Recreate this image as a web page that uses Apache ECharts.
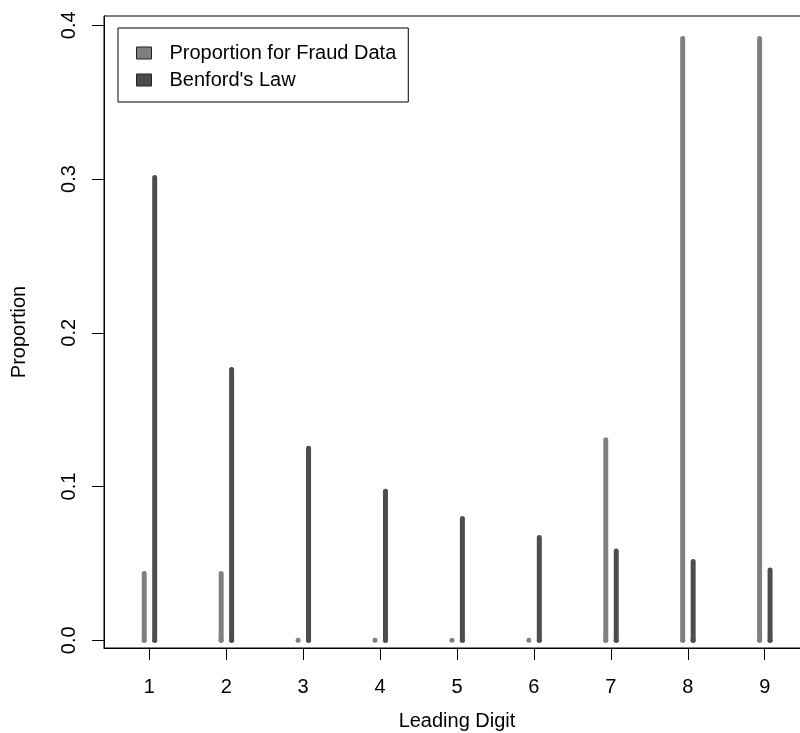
<!DOCTYPE html>
<html>
<head>
<meta charset="utf-8">
<style>html,body{margin:0;padding:0;background:#fff;overflow:hidden;width:800px;height:733px;}#main{width:812px;height:733px;}</style>
<script src="https://cdn.jsdelivr.net/npm/echarts@6/dist/echarts.min.js"></script>
</head>
<body>
<div id="main"></div>
<script>
var digits = [1, 2, 3, 4, 5, 6, 7, 8, 9];
var fraudProp = [0.0435, 0.0435, 0, 0, 0, 0, 0.1304, 0.3913, 0.3913];
var benfordProp = [0.3010, 0.1761, 0.1249, 0.0969, 0.0792, 0.0669, 0.0580, 0.0512, 0.0458];
var yTicks = [0, 0.1, 0.2, 0.3, 0.4];
var seriesNames = ['Proportion for Fraud Data', "Benford's Law"];

var FONT = '"Liberation Sans", Arial, Helvetica, sans-serif';
var fraudColor = '#808080';
var benfordColor = '#4d4d4d';

function makeRender(color, offset) {
  return function (params, api) {
    var x = api.value(0) + offset;
    var y = api.value(1);
    var p0 = api.coord([x, 0]);
    var p1 = api.coord([x, y]);
    return {
      type: 'group',
      children: [
        {
          type: 'line',
          shape: { x1: p0[0], y1: p0[1], x2: p1[0], y2: p1[1] },
          style: { stroke: color, lineWidth: 5, lineCap: 'round' }
        },
        {
          type: 'circle',
          shape: { cx: p0[0], cy: p0[1], r: 2.5 },
          style: { fill: color }
        }
      ]
    };
  };
}

var chart = echarts.init(document.getElementById('main'), null, { renderer: 'canvas' });
chart.setOption({
  animation: false,
  backgroundColor: '#fff',
  textStyle: { fontFamily: FONT },
  grid: {
    left: 104, top: 16, bottom: 85, right: 2,
    outerBoundsMode: 'none',
    containLabel: false,
    show: true, borderColor: '#000', borderWidth: 1, backgroundColor: 'transparent'
  },
  legend: {
    orient: 'vertical',
    left: 118, top: 28,
    padding: [15, 12, 12, 18],
    itemGap: 7,
    itemWidth: 15, itemHeight: 12,
    icon: 'rect',
    borderColor: '#000', borderWidth: 1,
    textStyle: { fontFamily: FONT, fontSize: 20, color: '#000', padding: [0, 0, 0, 13] },
    data: [
      { name: seriesNames[0], itemStyle: { color: fraudColor, borderColor: '#222', borderWidth: 1 } },
      { name: seriesNames[1], itemStyle: { color: benfordColor, borderColor: '#222', borderWidth: 1 } }
    ]
  },
  xAxis: {
    type: 'value',
    min: 0.411, max: 9.589,
    name: 'Leading Digit',
    nameLocation: 'middle',
    nameGap: 63,
    nameTextStyle: { fontFamily: FONT, fontSize: 20, color: '#000' },
    splitLine: { show: false },
    axisLine: { show: true, onZero: false, lineStyle: { color: '#000', width: 1 } },
    axisTick: { show: true, length: 12, customValues: digits, lineStyle: { color: '#000', width: 1 } },
    axisLabel: {
      customValues: digits, margin: 29,
      fontFamily: FONT, fontSize: 20, color: '#000',
      formatter: function (v) { return String(Math.round(v)); }
    }
  },
  yAxis: {
    type: 'value',
    min: -0.005, max: 0.406,
    name: 'Proportion',
    nameLocation: 'middle',
    nameRotate: 90,
    nameGap: 75,
    nameTextStyle: { fontFamily: FONT, fontSize: 20, color: '#000' },
    splitLine: { show: false },
    axisLine: { show: true, onZero: false, lineStyle: { color: '#000', width: 1 } },
    axisTick: { show: true, length: 12, customValues: yTicks, lineStyle: { color: '#000', width: 1 } },
    axisLabel: {
      customValues: yTicks, rotate: 90, margin: 25,
      fontFamily: FONT, fontSize: 20, color: '#000',
      formatter: function (v) { return v.toFixed(1); }
    }
  },
  series: [
    {
      name: seriesNames[0],
      type: 'custom',
      itemStyle: { color: fraudColor },
      renderItem: makeRender(fraudColor, -0.066),
      data: digits.map(function (d, i) { return [d, fraudProp[i]]; })
    },
    {
      name: seriesNames[1],
      type: 'custom',
      itemStyle: { color: benfordColor },
      renderItem: makeRender(benfordColor, 0.07),
      data: digits.map(function (d, i) { return [d, benfordProp[i]]; })
    }
  ]
});
</script>
</body>
</html>
